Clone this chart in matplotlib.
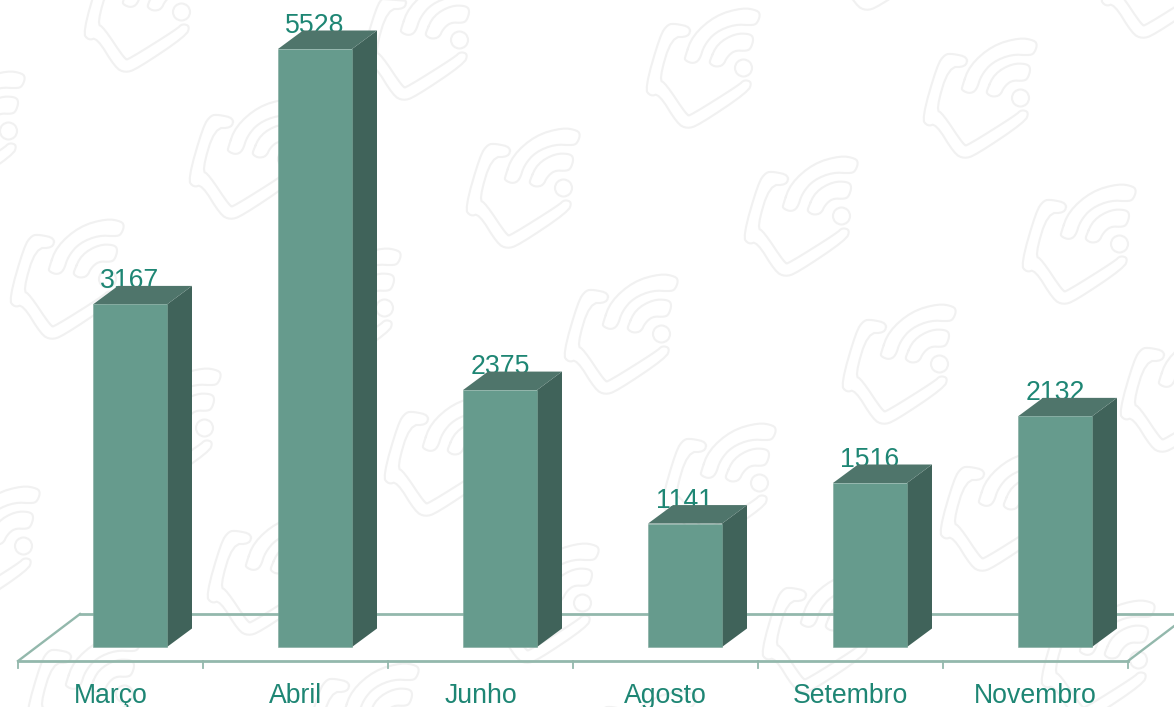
import numpy as np
import matplotlib
matplotlib.use("Agg")
import matplotlib.pyplot as plt
from matplotlib.patches import Circle

months = ["Março", "Abril", "Junho", "Agosto", "Setembro", "Novembro"]
values = [3167, 5528, 2375, 1141, 1516, 2132]

WIDTH, HEIGHT = 1174, 707
PX_PER_CAT = 185
PX_PER_UNIT = 598 / 5528
BASE_Y = 647
FIRST_CAT_X = 110.5

FRONT = "#669b8d"
SIDE = "#40635a"
TOP = "#4f756b"
EDGE = "#7fa89c"
FLOOR = "#93b8ac"
TEXT = "#1e8674"
WATERMARK = "#f1f1f1"

plt.rcParams["font.family"] = ["Liberation Sans", "DejaVu Sans"]

# watermark logo, top left corner of each copy in pixels
logo_corners = [
    (823, -111), (1099, -83),
    (82, -49), (360, -21), (644, 7), (921, 37),
    (-91, 70), (187, 98), (464, 127), (742, 155), (1020, 183),
    (8, 218), (285, 247), (562, 273), (840, 303), (1118, 331),
    (105, 367), (382, 395), (660, 422), (938, 450),
    (-76, 485), (205, 514), (483, 542), (760, 571), (1039, 599),
    (25, 633), (303, 662), (580, 690),
]

# logo outlines, traced on a zoomed crop (x scale 2.613, y scale 3)
logo_body = [(305, 80), (300, 110), (255, 110), (222, 238), (240, 250), (295, 345), (305, 345),
             (430, 255), (445, 238), (465, 245), (455, 275), (325, 375), (295, 385), (270, 370),
             (222, 280), (200, 288), (185, 265), (225, 105), (245, 72), (265, 70)]
logo_big_arc = [(290, 170), (310, 105), (370, 45), (440, 22), (480, 30), (487, 45), (478, 70),
                (465, 75), (420, 72), (370, 95), (340, 135), (328, 180), (310, 190), (290, 180)]
logo_small_arc = [(355, 180), (375, 130), (420, 100), (460, 100), (470, 115), (462, 145),
                  (450, 152), (420, 150), (400, 170), (390, 195), (370, 200), (355, 190)]


def smooth(points, rounds=2):
    pts = np.array(points, dtype=float)
    for _ in range(rounds):
        nxt = np.roll(pts, -1, axis=0)
        pts = np.column_stack([0.75 * pts + 0.25 * nxt, 0.25 * pts + 0.75 * nxt]).reshape(-1, 2)
    return np.vstack([pts, pts[0]])


def to_logo_px(points):
    pts = np.array(points, dtype=float)
    return np.column_stack([(pts[:, 0] - 183) / 2.613, (pts[:, 1] - 20) / 3])


outlines = [smooth(to_logo_px(p)) for p in (logo_body, logo_big_arc, logo_small_arc)]
dot = to_logo_px([(443, 203)])[0]

fig = plt.figure(figsize=(WIDTH / 100, HEIGHT / 100), dpi=100)

# background in pixel coordinates
bg = fig.add_axes([0, 0, 1, 1])
bg.set_xlim(0, WIDTH)
bg.set_ylim(HEIGHT, 0)
bg.axis("off")

for cx, cy in logo_corners:
    for line in outlines:
        bg.plot(line[:, 0] + cx, line[:, 1] + cy, color=WATERMARK, lw=1.5, zorder=1)
    bg.add_patch(Circle((dot[0] + cx, dot[1] + cy), 8.5, fill=False, ec=WATERMARK, lw=1.5, zorder=1))

# floor of the 3d frame
bg.plot([18, 1128], [661, 661], color=FLOOR, lw=2, zorder=2)
bg.plot([80, 1200], [614, 614], color=FLOOR, lw=2, zorder=2)
bg.plot([18, 80], [661, 614], color=FLOOR, lw=1.7, zorder=2)
bg.plot([1128, 1190], [661, 614], color=FLOOR, lw=1.7, zorder=2)
for i in range(len(months) + 1):
    tick_x = 18 + PX_PER_CAT * i
    bg.plot([tick_x, tick_x], [661, 668], color=FLOOR, lw=1.3, zorder=2)

# chart axes: x is category index, y is the value
ax = fig.add_axes([0, 0, 1, 1])
ax.patch.set_alpha(0)
ax.set_xlim(-FIRST_CAT_X / PX_PER_CAT, (WIDTH - FIRST_CAT_X) / PX_PER_CAT)
ax.set_ylim((BASE_Y - HEIGHT) / PX_PER_UNIT, BASE_Y / PX_PER_UNIT)
ax.axis("off")

x = np.arange(len(months))
bar_w = 74 / PX_PER_CAT
shift = 19.5 / PX_PER_CAT
depth_x = 25 / PX_PER_CAT
depth_y = 18.5 / PX_PER_UNIT

ax.bar(x + shift, values, width=bar_w, color=FRONT, edgecolor=EDGE, linewidth=0.4, zorder=4)

for xi, val in zip(x, values):
    left = xi + shift - bar_w / 2
    right = xi + shift + bar_w / 2
    ax.fill([right, right + depth_x, right + depth_x, right],
            [0, depth_y, val + depth_y, val], color=SIDE, lw=0, zorder=3)
    ax.fill([left, left + depth_x, right + depth_x, right],
            [val, val + depth_y, val + depth_y, val], color=TOP, lw=0, zorder=3)
    # the label sits partly behind the top face
    ax.text(xi + shift, val + 16 / PX_PER_UNIT, str(val), ha="center", va="baseline",
            color=TEXT, fontsize=19.2, zorder=2)

for xi, month in zip(x, months):
    ax.text(xi, (BASE_Y - 703) / PX_PER_UNIT, month, ha="center", va="baseline",
            color=TEXT, fontsize=19.2, zorder=2)

fig.savefig("out.png", dpi=100)
